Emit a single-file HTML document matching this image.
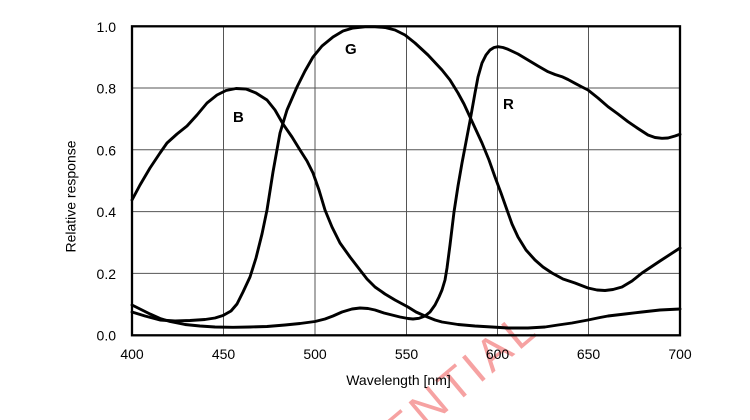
<!DOCTYPE html>
<html>
<head>
<meta charset="utf-8">
<style>
  html,body{margin:0;padding:0;background:#fff;}
  body{width:750px;height:420px;overflow:hidden;}
  svg{display:block;}
  text{font-family:"Liberation Sans",Arial,sans-serif;}
</style>
</head>
<body>
<svg width="750" height="420" viewBox="0 0 750 420" xmlns="http://www.w3.org/2000/svg">
  <defs>
    <clipPath id="frame"><rect x="0" y="0" width="750" height="420"/></clipPath>
  </defs>
  <rect x="0" y="0" width="750" height="420" fill="#fff"/>

  <!-- watermark -->
  <g clip-path="url(#frame)">
    <text x="0" y="0" transform="translate(246,580) rotate(-40)" font-size="46" letter-spacing="4" fill="rgb(240,100,100)" fill-opacity="0.6">CONFIDENTIAL</text>
  </g>

  <!-- grid -->
  <g stroke="#555" stroke-width="1" fill="none">
    <line x1="223.5" y1="26" x2="223.5" y2="335"/>
    <line x1="315" y1="26" x2="315" y2="335"/>
    <line x1="406.5" y1="26" x2="406.5" y2="335"/>
    <line x1="497.5" y1="26" x2="497.5" y2="335"/>
    <line x1="588.5" y1="26" x2="588.5" y2="335"/>
    <line x1="132" y1="88" x2="680" y2="88"/>
    <line x1="132" y1="149.8" x2="680" y2="149.8"/>
    <line x1="132" y1="211.6" x2="680" y2="211.6"/>
    <line x1="132" y1="273.4" x2="680" y2="273.4"/>
  </g>

  <!-- curves -->
  <g fill="none" stroke="#000" stroke-width="2.9" stroke-linejoin="round" stroke-linecap="round">
    <!-- B -->
    <polyline points="132,200 140,185 150,168 160,153 167,143 177,134 187,126 197,115 207,103 217,95 226,90.5 236,88.5 246,89 256,93 267,100 275,110 283,124 292,137 300,150 307,161 313,173 319,190 325,210 332,227 340,243 350,257 360,270 367,279 375,287 385,294 395,300 408,307 416,312 425,316 435,320 442,322 458,324.5 475,326 492,327 508,328 528,328 545,327 558,325 572,323 588,320 600,317.5 608,316 625,314 642,312 660,310 680,309"/>
    <!-- G -->
    <polyline points="132,312 145,316 160,320 175,321 190,320.5 205,319.5 215,318 223,315.5 231,311 237,304 243,292 250,277 256,258 262,234 267,210 273,172 280,133 287,110 297,87 305,71 313,57 322,46 333,37 343,31 353,28 365,26.8 375,26.8 385,27.5 395,30 405,35 415,43 428,55 442,70 450,80 458,93 464,104 470,117 476,130 482,143 489,160 495,177 501,193 507,210 512,224 518,237 526,250 535,260 543,267 552,273 563,279 575,283 588,288 597,290 605,290.5 613,289.5 622,287 632,281 642,273 660,261 680,248"/>
    <!-- R -->
    <polyline points="132,305 140,309 150,314 160,318.5 170,321.5 185,324.5 200,326 215,327 233,327.3 250,327 267,326.5 285,325 300,323.5 315,321.5 325,319 333,316 342,312 352,309 360,308 368,308.5 375,310 384,313 392,315 400,317 408,318.5 413,319 419,318.3 425,316 430,312 435,305 439,297 442,290 445,280 447,268 450,245 454,212 458,186 462,163 466,142 470,121 475,93 478,77 482,63 486,55 490,50 494,47.5 498,46.7 503,47.5 508,49.3 518,54 528,60 538,66 548,71.7 555,74.5 562,76.7 568,79.5 575,83.3 582,87 588,90 598,98 608,106.7 618,114 628,121.7 638,128.5 648,135 655,137.5 662,138.3 668,138 675,136 680,134.3"/>
  </g>

  <!-- frame -->
  <rect x="132" y="26.3" width="548" height="309" fill="none" stroke="#000" stroke-width="2.3"/>

  <!-- curve labels -->
  <g font-size="15" font-weight="bold" fill="#000">
    <text x="233" y="122">B</text>
    <text x="345" y="54">G</text>
    <text x="503" y="109">R</text>
  </g>

  <!-- y tick labels -->
  <g font-size="14" fill="#000" text-anchor="end">
    <text x="116" y="32">1.0</text>
    <text x="116" y="93.5">0.8</text>
    <text x="116" y="155.3">0.6</text>
    <text x="116" y="217">0.4</text>
    <text x="116" y="278.8">0.2</text>
    <text x="116" y="340.5">0.0</text>
  </g>

  <!-- x tick labels -->
  <g font-size="14" fill="#000" text-anchor="middle">
    <text x="132" y="359">400</text>
    <text x="223.5" y="359">450</text>
    <text x="315" y="359">500</text>
    <text x="406.5" y="359">550</text>
    <text x="497.5" y="359">600</text>
    <text x="588.5" y="359">650</text>
    <text x="680" y="359">700</text>
  </g>

  <!-- axis titles -->
  <text x="398.5" y="385" font-size="14" text-anchor="middle" fill="#000">Wavelength [nm]</text>
  <text transform="translate(75.5,196.5) rotate(-90)" x="0" y="0" font-size="14" text-anchor="middle" fill="#000">Relative response</text>
</svg>
</body>
</html>
